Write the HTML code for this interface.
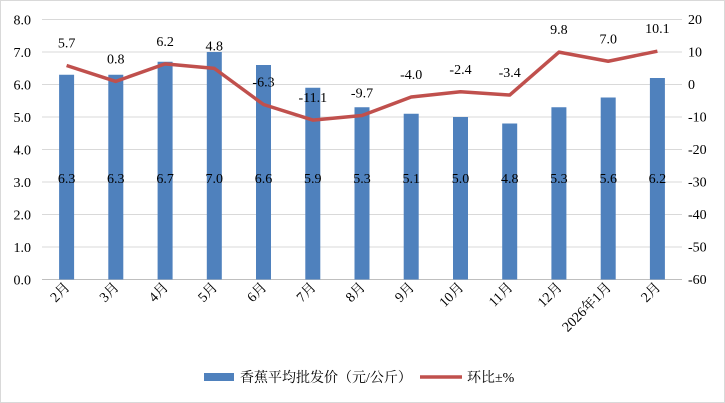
<!DOCTYPE html><html><head><meta charset="utf-8"><style>body{margin:0;background:#fff}svg{display:block}text{font-family:"Liberation Serif","Noto Serif CJK SC",serif;font-size:14px;fill:#000}</style></head><body>
<svg width="725" height="403" viewBox="0 0 725 403" xmlns="http://www.w3.org/2000/svg">
<rect x="0.5" y="0.5" width="724" height="402" fill="#fff" stroke="#d9d9d9"/>
<g stroke="#d9d9d9">
<line x1="42" x2="682" y1="19.5" y2="19.5"/><line x1="42" x2="682" y1="52" y2="52"/><line x1="42" x2="682" y1="84.5" y2="84.5"/><line x1="42" x2="682" y1="117" y2="117"/><line x1="42" x2="682" y1="149.5" y2="149.5"/><line x1="42" x2="682" y1="182" y2="182"/><line x1="42" x2="682" y1="214.5" y2="214.5"/><line x1="42" x2="682" y1="247" y2="247"/><line x1="42" x2="682" y1="279.5" y2="279.5" stroke="#bfbfbf"/>
</g>
<g text-anchor="end">
<text x="31" y="24.5">8.0</text><text x="31" y="57">7.0</text><text x="31" y="89.5">6.0</text><text x="31" y="122">5.0</text><text x="31" y="154.5">4.0</text><text x="31" y="187">3.0</text><text x="31" y="219.5">2.0</text><text x="31" y="252">1.0</text><text x="31" y="284.5">0.0</text>
</g>
<g>
<text x="688" y="24">20</text><text x="688" y="56.5">10</text><text x="688" y="89">0</text><text x="688" y="121.5">-10</text><text x="688" y="154">-20</text><text x="688" y="186.5">-30</text><text x="688" y="219">-40</text><text x="688" y="251.5">-50</text><text x="688" y="284">-60</text>
</g>
<g fill="#4f81bd">
<rect x="59.1" y="74.75" width="15" height="204.75"/>
<rect x="108.3" y="74.75" width="15" height="204.75"/>
<rect x="157.6" y="61.75" width="15" height="217.75"/>
<rect x="206.8" y="52" width="15" height="227.5"/>
<rect x="256" y="65" width="15" height="214.5"/>
<rect x="305.3" y="87.75" width="15" height="191.75"/>
<rect x="354.5" y="107.25" width="15" height="172.25"/>
<rect x="403.7" y="113.75" width="15" height="165.75"/>
<rect x="453" y="117" width="15" height="162.5"/>
<rect x="502.2" y="123.5" width="15" height="156"/>
<rect x="551.4" y="107.25" width="15" height="172.25"/>
<rect x="600.7" y="97.5" width="15" height="182"/>
<rect x="649.9" y="78" width="15" height="201.5"/>
</g>
<g text-anchor="end" style="font-size:13px">
<text transform="translate(70.6,288) rotate(-45)">2月</text>
<text transform="translate(119.8,288) rotate(-45)">3月</text>
<text transform="translate(169.1,288) rotate(-45)">4月</text>
<text transform="translate(218.3,288) rotate(-45)">5月</text>
<text transform="translate(267.5,288) rotate(-45)">6月</text>
<text transform="translate(316.8,288) rotate(-45)">7月</text>
<text transform="translate(366,288) rotate(-45)">8月</text>
<text transform="translate(415.2,288) rotate(-45)">9月</text>
<text transform="translate(464.5,288) rotate(-45)">10月</text>
<text transform="translate(513.7,288) rotate(-45)">11月</text>
<text transform="translate(562.9,288) rotate(-45)">12月</text>
<text transform="translate(612.2,288) rotate(-45)">2026年1月</text>
<text transform="translate(661.4,288) rotate(-45)">2月</text>
</g>
<path d="M66.6 65.5L115.8 81.4L165.1 63.85L214.3 68.4L263.5 104.5L312.8 120.1L362 115.5L411.2 97L460.5 91.8L509.7 95.05L558.9 52.15L608.2 61.25L657.4 51.2" fill="none" stroke="#c0504d" stroke-width="3.5" stroke-linejoin="round"/>
<g text-anchor="middle">
<text x="66.6" y="183">6.3</text><text x="115.8" y="183">6.3</text><text x="165.1" y="183">6.7</text><text x="214.3" y="183">7.0</text><text x="263.5" y="183">6.6</text><text x="312.8" y="183">5.9</text><text x="362" y="183">5.3</text><text x="411.2" y="183">5.1</text><text x="460.5" y="183">5.0</text><text x="509.7" y="183">4.8</text><text x="558.9" y="183">5.3</text><text x="608.2" y="183">5.6</text><text x="657.4" y="183">6.2</text>
<text x="66.6" y="47.5">5.7</text><text x="115.8" y="63.4">0.8</text><text x="165.1" y="45.9">6.2</text><text x="214.3" y="50.4">4.8</text><text x="263.5" y="86.5">-6.3</text><text x="312.8" y="102.1">-11.1</text><text x="362" y="97.5">-9.7</text><text x="411.2" y="79">-4.0</text><text x="460.5" y="73.8">-2.4</text><text x="509.7" y="77">-3.4</text><text x="558.9" y="34.2">9.8</text><text x="608.2" y="43.3">7.0</text><text x="657.4" y="33.2">10.1</text>
</g>
<rect x="204" y="373" width="30" height="8" fill="#4f81bd"/><text x="240" y="382">香蕉平均批发价（元/公斤）</text>
<line x1="420" x2="462" y1="377" y2="377" stroke="#c0504d" stroke-width="3.5"/><text x="467" y="382">环比±%</text>
</svg></body></html>
